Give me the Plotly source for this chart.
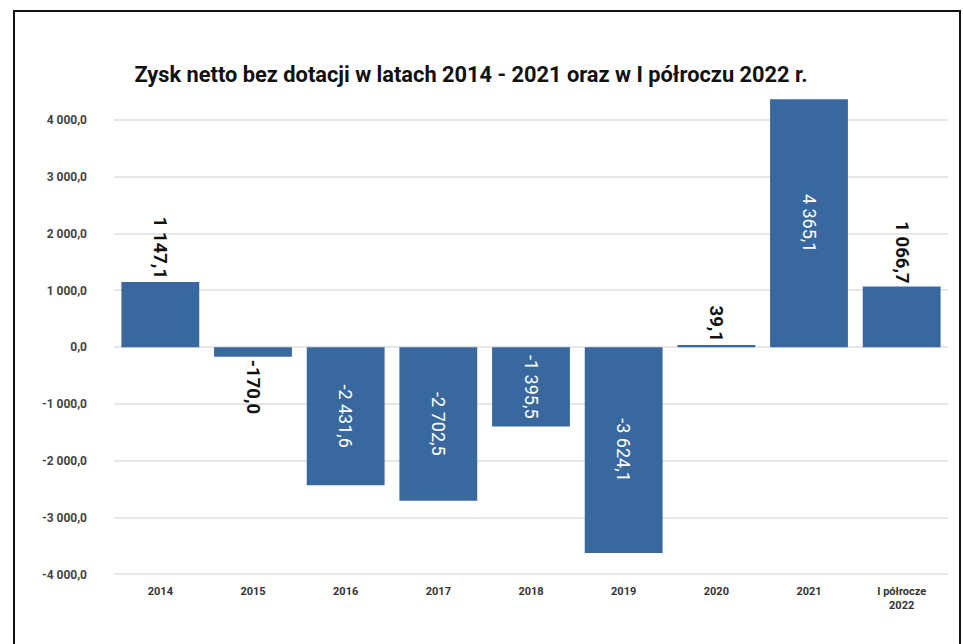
import plotly.graph_objects as go

categories = ["2014", "2015", "2016", "2017", "2018", "2019", "2020", "2021", "I półrocze<br>2022"]
values = [1147.1, -170.0, -2431.6, -2702.5, -1395.5, -3624.1, 39.1, 4365.1, 1066.7]
tick_values = [-4000, -3000, -2000, -1000, 0, 1000, 2000, 3000, 4000]
title_text = "Zysk netto bez dotacji w latach 2014 - 2021 oraz w I półroczu 2022 r."


def fmt(v):
    s = f"{abs(v):,.1f}".replace(",", " ").replace(".", ",")
    return ("-" if v < 0 else "") + s


labels = [fmt(v) for v in values]
tick_text = [fmt(v) for v in tick_values]
positions = ["outside" if abs(v) < 1200 else "inside" for v in values]
text_colors = ["#111111" if p == "outside" else "#ffffff" for p in positions]
text_sizes = [18.5 if p == "outside" else 18 for p in positions]
text_weights = ["bold" if p == "outside" else "normal" for p in positions]

fig = go.Figure(
    go.Bar(
        x=categories,
        y=values,
        text=labels,
        textposition=positions,
        textangle=90,
        insidetextanchor="middle",
        constraintext="none",
        cliponaxis=False,
        textfont=dict(family="Roboto", size=text_sizes, color=text_colors, weight=text_weights),
        marker=dict(color="#39689f", line=dict(width=0)),
    )
)

L, R, T, B = 114, 15, 95, 64
W, H = 963, 644
pw, ph = W - L - R, H - T - B


def px_x(p):
    return (p - L) / pw


def px_y(p):
    return (H - B - p) / ph


fig.add_shape(
    type="path",
    xref="paper", yref="paper",
    path=f"M {px_x(14)} {px_y(700)} L {px_x(14)} {px_y(11)} L {px_x(960)} {px_y(11)} L {px_x(960)} {px_y(700)}",
    line=dict(color="#111111", width=2),
)

fig.update_layout(
    width=W, height=H,
    margin=dict(l=L, r=R, t=T, b=B),
    plot_bgcolor="white", paper_bgcolor="white",
    bargap=0.16,
    showlegend=False,
    title=dict(
        text=f"<b>{title_text}</b>",
        x=471 / W, xanchor="center",
        y=1 - 74 / H, yanchor="middle",
        font=dict(family="Roboto", size=21.8, color="#111111"),
    ),
    xaxis=dict(
        showgrid=False, showline=False, zeroline=False,
        tickfont=dict(family="Roboto", size=11, color="#333333", weight="bold"),
        ticks="", ticklabelstandoff=3,
    ),
    yaxis=dict(
        range=[-4100, 4440],
        tickvals=tick_values, ticktext=tick_text,
        showgrid=True, gridcolor="#e6e6e6", gridwidth=1.5,
        zeroline=True, zerolinecolor="#e6e6e6", zerolinewidth=1.5,
        showline=False,
        tickfont=dict(family="Roboto", size=12, color="#444444", weight="bold"),
        ticks="", ticklabelstandoff=26,
    ),
)

fig.write_html(
    "out.html",
    config={"displayModeBar": False},
    post_script="document.body.style.margin='0px';document.body.style.overflow='hidden';",
)
